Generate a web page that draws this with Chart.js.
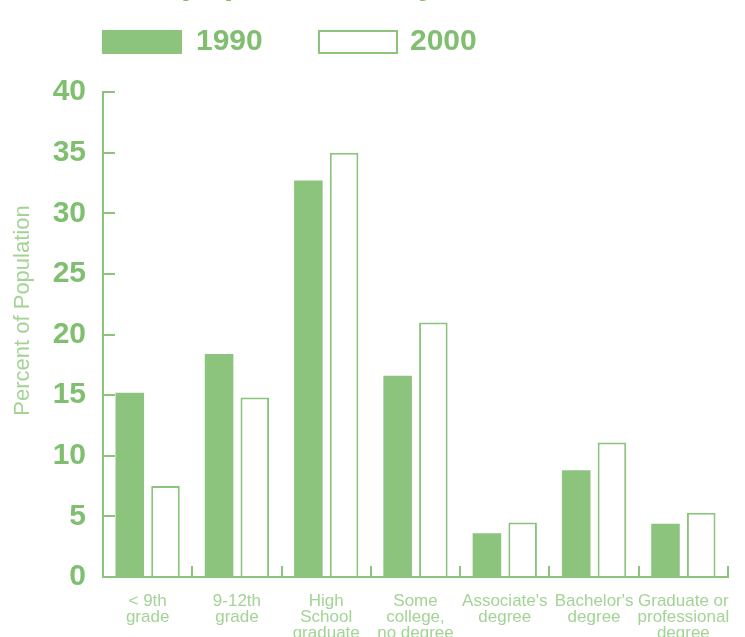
<!DOCTYPE html>
<html>
<head>
<meta charset="utf-8">
<script src="https://cdn.jsdelivr.net/npm/chart.js@4"></script>
<style>
  html, body { margin: 0; padding: 0; background: #ffffff; }
  #wrap { width: 745px; height: 637px; position: relative; }
</style>
</head>
<body>
<div id="wrap"><canvas id="chart" width="745" height="637"></canvas></div>
<script>
// Educational attainment, share of population by level
const categories = [
  ['< 9th', 'grade'],
  ['9-12th', 'grade'],
  ['High', 'School', 'graduate'],
  ['Some', 'college,', 'no degree'],
  ["Associate's", 'degree'],
  ["Bachelor's", 'degree'],
  ['Graduate or', 'professional', 'degree']
];
const seriesNames = ['1990', '2000'];
const values1990 = [15.2, 18.4, 32.7, 16.6, 3.6, 8.8, 4.4];
const values2000 = [7.5, 14.8, 35.0, 21.0, 4.5, 11.1, 5.3];
const yTicks = [0, 5, 10, 15, 20, 25, 30, 35, 40];
const yAxisTitle = 'Percent of Population';
const headingLine = 'population 25 years and over';

const GREEN = '#8cc47e';
const GREEN_TEXT = '#80bf70';
const GREEN_LIGHT = '#a3d395';

// Heading (only the lower part sits on the canvas), legend and rotated y title
const decorations = {
  id: 'decorations',
  afterDraw(chart) {
    const ctx = chart.ctx;
    const ds = chart.data.datasets;
    ctx.save();
    // heading line
    ctx.fillStyle = GREEN_TEXT;
    ctx.font = 'bold 35px "Liberation Sans", Arial, sans-serif';
    ctx.textBaseline = 'alphabetic';
    ctx.textAlign = 'left';
    ctx.fillText(headingLine, 181, -6);

    // legend
    ctx.font = 'bold 30px "Liberation Sans", Arial, sans-serif';
    ctx.textBaseline = 'middle';
    ctx.fillStyle = ds[0].backgroundColor;
    ctx.fillRect(102, 30, 80, 24);
    ctx.fillStyle = GREEN_TEXT;
    ctx.fillText(ds[0].label, 196, 42);
    ctx.strokeStyle = ds[1].borderColor;
    ctx.lineWidth = 2;
    ctx.fillStyle = '#ffffff';
    ctx.fillRect(319, 31, 78, 22);
    ctx.strokeRect(319, 31, 78, 22);
    ctx.fillStyle = GREEN_TEXT;
    ctx.fillText(ds[1].label, 410, 42);

    // y axis title
    const yScale = chart.scales.y;
    ctx.translate(23, (yScale.top + yScale.bottom) / 2 - 24);
    ctx.rotate(-Math.PI / 2);
    ctx.font = '22px "Liberation Sans", Arial, sans-serif';
    ctx.fillStyle = GREEN_LIGHT;
    ctx.textAlign = 'center';
    ctx.fillText(yAxisTitle, 0, 0);
    ctx.restore();
  }
};

new Chart(document.getElementById('chart'), {
  type: 'bar',
  data: {
    labels: categories,
    datasets: [
      {
        label: seriesNames[0],
        data: values1990,
        backgroundColor: GREEN,
        borderWidth: 0,
        categoryPercentage: 0.8,
        barPercentage: 0.8
      },
      {
        label: seriesNames[1],
        data: values2000,
        backgroundColor: '#ffffff',
        borderColor: GREEN,
        borderWidth: 2,
        categoryPercentage: 0.8,
        barPercentage: 0.8
      }
    ]
  },
  options: {
    responsive: false,
    animation: false,
    layout: { padding: { top: 92, right: 17, bottom: 0, left: 0 } },
    plugins: {
      legend: { display: false },
      tooltip: { enabled: false },
      title: { display: false }
    },
    scales: {
      x: {
        grid: {
          offset: true,
          drawOnChartArea: false,
          drawTicks: true,
          tickLength: -11,
          color: GREEN,
          lineWidth: 2
        },
        border: { display: true, color: GREEN, width: 2 },
        ticks: {
          color: GREEN_LIGHT,
          font: { family: '"Liberation Sans Narrow", "Liberation Sans", Arial, sans-serif', size: 17, lineHeight: 0.95 },
          padding: 27,
          maxRotation: 0,
          minRotation: 0,
          autoSkip: false
        },
        afterFit(scale) {
          scale.height = 60;
          scale.paddingLeft = 0;
          scale.paddingRight = 0;
        }
      },
      y: {
        min: 0,
        max: 40,
        afterBuildTicks(scale) { scale.ticks = yTicks.map(v => ({ value: v })); },
        grid: {
          drawOnChartArea: false,
          drawTicks: true,
          tickLength: -12,
          color: GREEN,
          lineWidth: 2
        },
        border: { display: true, color: GREEN, width: 2 },
        ticks: {
          color: GREEN_TEXT,
          font: { family: '"Liberation Sans", Arial, sans-serif', size: 30, weight: 'bold' },
          padding: 29
        },
        afterFit(scale) { scale.width = 103; }
      }
    }
  },
  plugins: [decorations]
});
</script>
</body>
</html>
